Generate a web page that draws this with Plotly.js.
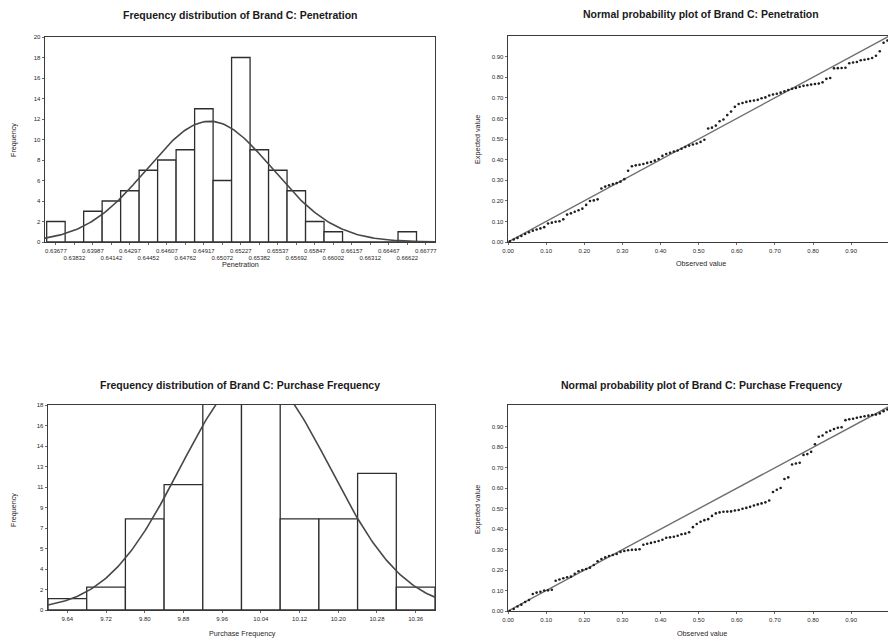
<!DOCTYPE html>
<html>
<head>
<meta charset="utf-8">
<script src="https://cdn.plot.ly/plotly-3.0.1.min.js"></script>
<style>html,body{margin:0;padding:0;background:#fff;}#chart{width:888px;height:641px;}</style>
</head>
<body>
<div id="chart"></div>
<script>
// ---------- data ----------
const penBins = [0.63677, 0.63832, 0.63987, 0.64142, 0.64297, 0.64452, 0.64607, 0.64762, 0.64917, 0.65072,
                 0.65227, 0.65382, 0.65537, 0.65692, 0.65847, 0.66002, 0.66157, 0.66312, 0.66467, 0.66622, 0.66777];
const penCounts = [2, 0, 3, 4, 5, 7, 8, 9, 13, 6, 18, 9, 7, 5, 2, 1, 0, 0, 0, 1, 0];
const penBinWidth = 0.00155;
const penFit = {mean: 0.64966, sd: 0.00525, n: 100};

const pfBins = [9.64, 9.72, 9.80, 9.88, 9.96, 10.04, 10.12, 10.20, 10.28, 10.36];
const pfLabels = ['9.64', '9.72', '9.80', '9.88', '9.96', '10.04', '10.12', '10.20', '10.28', '10.36'];
const pfCounts = [1, 2, 8, 11, 24, 24, 8, 8, 12, 2];
const pfBinWidth = 0.08;
const pfFit = {mean: 10.028, sd: 0.154, n: 100};
const pfYTicks = [0, 1.8, 3.6, 5.4, 7.2, 9, 10.8, 12.6, 14.4, 16.2, 18];
const pfYLabels = ['0', '2', '4', '5', '7', '9', '11', '13', '14', '16', '18'];

const ppObserved = [
  0.005, 0.015, 0.025, 0.035, 0.045, 0.055, 0.065, 0.075, 0.085, 0.095,
  0.105, 0.115, 0.125, 0.135, 0.145, 0.155, 0.165, 0.175, 0.185, 0.195,
  0.205, 0.215, 0.225, 0.235, 0.245, 0.255, 0.265, 0.275, 0.285, 0.295,
  0.305, 0.315, 0.325, 0.335, 0.345, 0.355, 0.365, 0.375, 0.385, 0.395,
  0.405, 0.415, 0.425, 0.435, 0.445, 0.455, 0.465, 0.475, 0.485, 0.495,
  0.505, 0.515, 0.525, 0.535, 0.545, 0.555, 0.565, 0.575, 0.585, 0.595,
  0.605, 0.615, 0.625, 0.635, 0.645, 0.655, 0.665, 0.675, 0.685, 0.695,
  0.705, 0.715, 0.725, 0.735, 0.745, 0.755, 0.765, 0.775, 0.785, 0.795,
  0.805, 0.815, 0.825, 0.835, 0.845, 0.855, 0.865, 0.875, 0.885, 0.895,
  0.905, 0.915, 0.925, 0.935, 0.945, 0.955, 0.965, 0.975, 0.985, 0.995];
const ppPenExpected = [
  0.004, 0.012, 0.020, 0.029, 0.039, 0.047, 0.055, 0.061, 0.066, 0.072,
  0.090, 0.094, 0.098, 0.101, 0.110, 0.133, 0.139, 0.147, 0.154, 0.162,
  0.180, 0.199, 0.202, 0.207, 0.260, 0.269, 0.275, 0.281, 0.286, 0.293,
  0.305, 0.346, 0.368, 0.372, 0.375, 0.379, 0.384, 0.388, 0.395, 0.403,
  0.418, 0.427, 0.433, 0.439, 0.444, 0.453, 0.461, 0.468, 0.473, 0.478,
  0.486, 0.496, 0.551, 0.555, 0.565, 0.586, 0.595, 0.616, 0.633, 0.656,
  0.670, 0.675, 0.680, 0.684, 0.687, 0.690, 0.698, 0.702, 0.711, 0.716,
  0.720, 0.725, 0.731, 0.738, 0.744, 0.748, 0.754, 0.758, 0.761, 0.764,
  0.767, 0.769, 0.775, 0.792, 0.796, 0.843, 0.844, 0.845, 0.846, 0.868,
  0.871, 0.874, 0.882, 0.885, 0.888, 0.893, 0.904, 0.926, 0.967, 0.978];
const ppPfExpected = [
  0.000, 0.010, 0.022, 0.031, 0.044, 0.054, 0.083, 0.090, 0.094, 0.100,
  0.101, 0.104, 0.148, 0.154, 0.160, 0.165, 0.168, 0.182, 0.194, 0.200,
  0.205, 0.212, 0.225, 0.243, 0.254, 0.262, 0.269, 0.274, 0.279, 0.289,
  0.293, 0.297, 0.299, 0.300, 0.302, 0.324, 0.329, 0.333, 0.337, 0.342,
  0.348, 0.358, 0.360, 0.363, 0.368, 0.375, 0.378, 0.385, 0.410, 0.425,
  0.436, 0.444, 0.449, 0.465, 0.477, 0.482, 0.485, 0.486, 0.487, 0.491,
  0.494, 0.500, 0.504, 0.509, 0.516, 0.521, 0.526, 0.531, 0.540, 0.582,
  0.593, 0.601, 0.645, 0.653, 0.716, 0.721, 0.725, 0.763, 0.767, 0.778,
  0.815, 0.852, 0.858, 0.874, 0.881, 0.890, 0.896, 0.898, 0.933, 0.937,
  0.940, 0.945, 0.948, 0.952, 0.955, 0.958, 0.960, 0.966, 0.977, 0.985];
const refLine = [0, 1];
const ppTicks = [0, 0.1, 0.2, 0.3, 0.4, 0.5, 0.6, 0.7, 0.8, 0.9];

const titles = [
  'Frequency distribution of Brand C: Penetration',
  'Normal probability plot of Brand C: Penetration',
  'Frequency distribution of Brand C: Purchase Frequency',
  'Normal probability plot of Brand C: Purchase Frequency'
];

// ---------- helpers ----------
function normalCurve(fit, bw, lo, hi, steps) {
  const xs = [], ys = [];
  for (let i = 0; i <= steps; i++) {
    const x = lo + (hi - lo) * i / steps;
    const z = (x - fit.mean) / fit.sd;
    xs.push(x);
    ys.push(fit.n * bw / (fit.sd * Math.sqrt(2 * Math.PI)) * Math.exp(-0.5 * z * z));
  }
  return {x: xs, y: ys};
}

const W = 888, H = 641;
const px = v => v / W;
const py = v => 1 - v / H;

const FONT = 'Liberation Sans, Arial, sans-serif';
const INK = '#1f1f1f';
const barStyle = {color: '#ffffff', line: {color: '#2e2e2e', width: 1.3}};

const penLo = penBins[0] - penBinWidth / 2 - 0.00014;
const penHi = penBins[penBins.length - 1] + penBinWidth / 2;
const pfLo = pfBins[0] - pfBinWidth / 2;
const pfHi = pfBins[pfBins.length - 1] + pfBinWidth / 2;

const penEven = penBins.filter((_, i) => i % 2 === 0);
const penOdd = penBins.filter((_, i) => i % 2 === 1);
const fmt5 = v => v.toFixed(5);

const penCurve = normalCurve(penFit, penBinWidth, penLo, penHi, 200);
const pfCurve = normalCurve(pfFit, pfBinWidth, pfLo, pfHi, 200);

const traces = [
  {type: 'bar', x: penBins, y: penCounts, width: penBinWidth, marker: barStyle, xaxis: 'x', yaxis: 'y', hoverinfo: 'x+y'},
  {type: 'scatter', mode: 'lines', x: penCurve.x, y: penCurve.y, line: {color: '#474747', width: 1.6}, xaxis: 'x', yaxis: 'y', hoverinfo: 'skip'},
  {type: 'scatter', mode: 'markers', x: penOdd, y: penOdd.map(() => 0), marker: {opacity: 0, size: 1}, xaxis: 'x5', yaxis: 'y', hoverinfo: 'skip'},
  {type: 'scatter', mode: 'lines', x: refLine, y: refLine, line: {color: '#6e6e6e', width: 1.4}, xaxis: 'x2', yaxis: 'y2', hoverinfo: 'skip'},
  {type: 'scatter', mode: 'markers', x: ppObserved, y: ppPenExpected, marker: {color: '#1e1e1e', size: 2.6}, xaxis: 'x2', yaxis: 'y2'},
  {type: 'bar', x: pfBins, y: pfCounts, width: pfBinWidth, marker: barStyle, xaxis: 'x3', yaxis: 'y3', hoverinfo: 'x+y'},
  {type: 'scatter', mode: 'lines', x: pfCurve.x, y: pfCurve.y, line: {color: '#474747', width: 1.6}, xaxis: 'x3', yaxis: 'y3', hoverinfo: 'skip'},
  {type: 'scatter', mode: 'lines', x: refLine, y: refLine, line: {color: '#6e6e6e', width: 1.4}, xaxis: 'x4', yaxis: 'y4', hoverinfo: 'skip'},
  {type: 'scatter', mode: 'markers', x: ppObserved, y: ppPfExpected, marker: {color: '#1e1e1e', size: 2.6}, xaxis: 'x4', yaxis: 'y4'}
];

const tickFont = {family: FONT, size: 6, color: INK};
const frame = {showline: true, mirror: true, linecolor: '#3a3a3a', linewidth: 1.4, showgrid: false, zeroline: false,
               ticks: 'outside', ticklen: 2, tickwidth: 0.8, tickcolor: '#444', tickfont: tickFont, fixedrange: true};

const layout = {
  width: W, height: H,
  margin: {l: 0, r: 0, t: 0, b: 0},
  paper_bgcolor: '#fff', plot_bgcolor: '#fff',
  showlegend: false,
  font: {family: FONT, color: INK},
  xaxis: Object.assign({}, frame, {domain: [px(45), px(435)], range: [penLo, penHi], anchor: 'y',
    tickmode: 'array', tickvals: penEven, ticktext: penEven.map(fmt5), ticklabelstandoff: 0}),
  xaxis5: {overlaying: 'x', anchor: 'y', side: 'bottom', range: [penLo, penHi], showline: false, showgrid: false, zeroline: false,
    ticks: 'outside', ticklen: 2, tickwidth: 0.8, tickcolor: '#444', tickfont: tickFont, fixedrange: true,
    tickmode: 'array', tickvals: penOdd, ticktext: penOdd.map(fmt5), ticklabelstandoff: 8},
  yaxis: Object.assign({}, frame, {domain: [py(242), py(37)], range: [0, 20], dtick: 2, tick0: 0, anchor: 'x'}),
  xaxis2: Object.assign({}, frame, {domain: [px(508), 1], range: [0, 0.9966], anchor: 'y2',
    tickmode: 'array', tickvals: ppTicks, ticktext: ppTicks.map(v => v.toFixed(2))}),
  yaxis2: Object.assign({}, frame, {domain: [py(242), py(36)], range: [0, 1.0], anchor: 'x2',
    tickmode: 'array', tickvals: ppTicks, ticktext: ppTicks.map(v => v.toFixed(2))}),
  xaxis3: Object.assign({}, frame, {domain: [px(48), px(435)], range: [pfLo, pfHi], anchor: 'y3',
    tickmode: 'array', tickvals: pfBins, ticktext: pfLabels}),
  yaxis3: Object.assign({}, frame, {domain: [py(610), py(405)], range: [0, 18], anchor: 'x3',
    tickmode: 'array', tickvals: pfYTicks, ticktext: pfYLabels}),
  xaxis4: Object.assign({}, frame, {domain: [px(508), 1], range: [0, 0.9966], anchor: 'y4',
    tickmode: 'array', tickvals: ppTicks, ticktext: ppTicks.map(v => v.toFixed(2))}),
  yaxis4: Object.assign({}, frame, {domain: [py(611), py(405)], range: [0, 1.007], anchor: 'x4',
    tickmode: 'array', tickvals: ppTicks, ticktext: ppTicks.map(v => v.toFixed(2))}),
  annotations: []
};

const titleFont = {family: FONT, size: 10.5, color: '#1a1a1a', weight: 700};
const axFont = {family: FONT, size: 7.2, color: INK};
function ann(text, x, y, font, angle) {
  layout.annotations.push({text: text, xref: 'paper', yref: 'paper', x: px(x), y: py(y),
    xanchor: 'center', yanchor: 'middle', showarrow: false, font: font, textangle: angle || 0});
}
ann(titles[0], 240, 15, titleFont);
ann(titles[1], 701, 14, titleFont);
ann(titles[2], 240, 385, titleFont);
ann(titles[3], 701, 385, titleFont);
ann('Frequency', 13, 140, axFont, -90);
ann('Penetration', 240, 264, axFont);
ann('Expected value', 477, 140, axFont, -90);
ann('Observed value', 701, 263, axFont);
ann('Frequency', 13, 510, axFont, -90);
ann('Purchase Frequency', 242, 633, axFont);
ann('Expected value', 477, 510, axFont, -90);
ann('Observed value', 702, 633, axFont);

Plotly.newPlot('chart', traces, layout, {staticPlot: true, displayModeBar: false});
</script>
</body>
</html>
